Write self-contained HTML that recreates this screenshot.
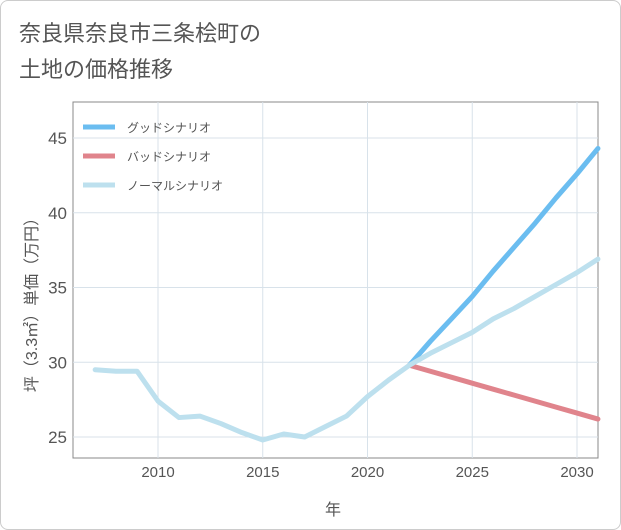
<!DOCTYPE html>
<html><head><meta charset="utf-8"><style>
body{margin:0;background:#fff;font-family:"Liberation Sans","Noto Sans CJK JP",sans-serif}
#wrap{position:relative;width:619px;height:528px;border:1px solid #ccc;border-radius:8px;overflow:hidden}
</style></head><body>
<div id="wrap">
<svg id="chart" width="621" height="530">
<text x="18" y="40" font-size="22" fill="#555" font-family="Liberation Sans,Noto Sans CJK JP,sans-serif">奈良県奈良市三条桧町の</text>
<text x="18" y="76" font-size="22" fill="#555" font-family="Liberation Sans,Noto Sans CJK JP,sans-serif">土地の価格推移</text>
<rect x="72" y="101" width="525" height="356" fill="none" stroke="#888"/>
<g id="grid"></g><g id="series"></g><g id="axes"></g>
<text x="332" y="514" font-size="16" fill="#555" text-anchor="middle" font-family="Liberation Sans,Noto Sans CJK JP,sans-serif">年</text>
<text transform="translate(36,300) rotate(-90)" font-size="16" fill="#555" text-anchor="middle" font-family="Liberation Sans,Noto Sans CJK JP,sans-serif">坪（3.3㎡）単価（万円）</text>
<g id="legend"></g>
</svg></div>
<script>
const years=[2007,2008,2009,2010,2011,2012,2013,2014,2015,2016,2017,2018,2019,2020,2021,2022,2023,2024,2025,2026,2027,2028,2029,2030,2031];
const normalVals=[29.5,29.4,29.4,27.4,26.3,26.4,25.9,25.3,24.8,25.2,25.0,25.7,26.4,27.7,28.8,29.8,30.6,31.3,32.0,32.9,33.6,34.4,35.2,36.0,36.9];
const futureYears=[2022,2023,2024,2025,2026,2027,2028,2029,2030,2031];
const goodVals=[29.8,31.4,32.9,34.4,36.1,37.7,39.3,41.0,42.6,44.3];
const badVals=[29.8,29.4,29.0,28.6,28.2,27.8,27.4,27.0,26.6,26.2];
const xTicks=[2010,2015,2020,2025,2030];
const yTicks=[25,30,35,40,45];
const seriesNames=["グッドシナリオ","バッドシナリオ","ノーマルシナリオ"];
const NS="http://www.w3.org/2000/svg";
const X=v=>157+(v-2010)*20.95, Y=v=>436-(v-25)*14.95;
function mk(t,a,p){const e=document.createElementNS(NS,t);for(const k in a)e.setAttribute(k,a[k]);p.appendChild(e);return e;}
const grid=document.getElementById('grid'),axes=document.getElementById('axes'),ser=document.getElementById('series'),leg=document.getElementById('legend');
xTicks.forEach(t=>{const l=mk('line',{x1:X(t),x2:X(t),y1:101,y2:457,stroke:'#d8e2ea'},grid);

const tx=mk('text',{x:X(t),y:476,'font-size':15,fill:'#555','text-anchor':'middle'},axes);tx.textContent=t;
});
yTicks.forEach(t=>{const l=mk('line',{x1:72,x2:597,y1:Y(t),y2:Y(t),stroke:'#d8e2ea'},grid);

const tx=mk('text',{x:66,y:Y(t)+6,'font-size':17,fill:'#555','text-anchor':'end'},axes);tx.textContent=t;
});
function line(xs,vs,c,name){const p=mk('polyline',{points:xs.map((x,i)=>X(x)+','+Y(vs[i])).join(' '),fill:'none',stroke:c,'stroke-width':5,'stroke-linejoin':'round','stroke-linecap':'round'},ser);
}
line(futureYears,badVals,'#e0848c','bad-scenario-line');
line(futureYears,goodVals,'#6bbdf0','good-scenario-line');
line(years,normalVals,'#bde0ee','normal-scenario-line');
const cols=['#6bbdf0','#e0848c','#bde0ee'];
seriesNames.forEach((n,i)=>{const y=126+i*29;
const l=mk('line',{x1:82,x2:114,y1:y,y2:y,stroke:cols[i],'stroke-width':5},leg);

const t=mk('text',{x:126,y:y+5,'font-size':12,fill:'#555'},leg);t.textContent=n;
});
</script>
</body></html>
